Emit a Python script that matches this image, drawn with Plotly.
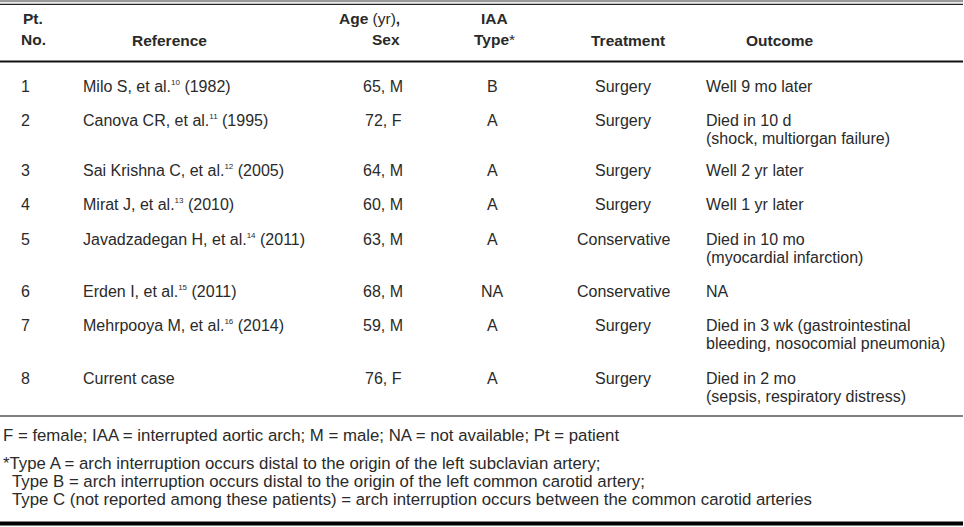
import plotly.graph_objects as go

# ---------------- data ----------------
pt_no = ["1", "2", "3", "4", "5", "6", "7", "8"]
ref_names = ["Milo S, et al.", "Canova CR, et al.", "Sai Krishna C, et al.", "Mirat J, et al.",
             "Javadzadegan H, et al.", "Erden I, et al.", "Mehrpooya M, et al.", "Current case"]
ref_cites = ["10", "11", "12", "13", "14", "15", "16", ""]
ref_years = ["(1982)", "(1995)", "(2005)", "(2010)", "(2011)", "(2011)", "(2014)", ""]
age_sex = ["65, M", "72, F", "64, M", "60, M", "63, M", "68, M", "59, M", "76, F"]
iaa_type = ["B", "A", "A", "A", "A", "NA", "A", "A"]
treatment = ["Surgery", "Surgery", "Surgery", "Surgery", "Conservative", "Conservative", "Surgery", "Surgery"]
outcome = [
    ["Well 9 mo later"],
    ["Died in 10 d", "(shock, multiorgan failure)"],
    ["Well 2 yr later"],
    ["Well 1 yr later"],
    ["Died in 10 mo", "(myocardial infarction)"],
    ["NA"],
    ["Died in 3 wk (gastrointestinal", "bleeding, nosocomial pneumonia)"],
    ["Died in 2 mo", "(sepsis, respiratory distress)"],
]
footnote_abbrev = "F = female; IAA = interrupted aortic arch; M = male; NA = not available; Pt = patient"
footnote_types = [
    "*Type A = arch interruption occurs distal to the origin of the left subclavian artery;",
    "Type B = arch interruption occurs distal to the origin of the left common carotid artery;",
    "Type C (not reported among these patients) = arch interruption occurs between the common carotid arteries",
]

# ---------------- layout constants ----------------
W, H = 964, 527
FONT = "Liberation Sans"
BODY = 16
HB = 15.5
FOOT = 16.8
TXT = "#2a2a2a"
LINE_H = 18
ROW_Y = [86, 120, 170, 204, 239, 291, 325, 378]
X_PT = 20
X_REF = 82
X_AGE = 383
X_IAA = 492
X_TRT = 623
X_OUT = 705

fig = go.Figure()
fig.update_xaxes(range=[0, W], visible=False, fixedrange=True)
fig.update_yaxes(range=[H, 0], visible=False, fixedrange=True)

ann = []


def add(x, y, text, xanchor="left", size=BODY, align="left", yanchor="middle"):
    ann.append(dict(x=x, y=y, xref="x", yref="y", text=text, showarrow=False,
                    xanchor=xanchor, yanchor=yanchor, align=align,
                    font=dict(family=FONT, size=size, color=TXT), borderpad=0))


# header
add(33, 18, "<b>Pt.</b>", xanchor="center", size=HB)
add(33, 39, "<b>No.</b>", xanchor="center", size=HB)
add(169, 40, "<b>Reference</b>", xanchor="center", size=HB)
add(401, 18, "<b>Age</b> (yr)<b>,</b>", xanchor="right", size=HB)
add(401, 39, "<b>Sex</b>", xanchor="right", size=HB)
add(494, 18, "<b>IAA</b>", xanchor="center", size=HB)
add(494, 39, "<b>Type</b>*", xanchor="center", size=HB)
add(628, 40, "<b>Treatment</b>", xanchor="center", size=HB)
add(780, 40, "<b>Outcome</b>", xanchor="center", size=HB)

# rows
for i in range(len(pt_no)):
    y = ROW_Y[i]
    add(X_PT, y, pt_no[i])
    ref = ref_names[i]
    if ref_cites[i]:
        ref += "<sup><span style='font-size:8px'>" + ref_cites[i] + "</span></sup> " + ref_years[i]
    add(X_REF, y, ref)
    add(X_AGE, y, age_sex[i], xanchor="center")
    add(X_IAA, y, iaa_type[i], xanchor="center")
    add(X_TRT, y, treatment[i], xanchor="center")
    for k, line in enumerate(outcome[i]):
        add(X_OUT, y + k * LINE_H, line)

# footnotes
add(2, 435, footnote_abbrev, size=FOOT)
for k, line in enumerate(footnote_types):
    add(2 if k == 0 else 11, 463 + k * LINE_H, line, size=FOOT)

shapes = [
    dict(type="line", x0=0, x1=963, y0=1, y1=1, line=dict(color="#9a9a9a", width=2.5)),
    dict(type="line", x0=0, x1=963, y0=4.3, y1=4.3, line=dict(color="#222222", width=1.3)),
    dict(type="line", x0=0, x1=963, y0=61.5, y1=61.5, line=dict(color="#111111", width=2)),
    dict(type="line", x0=0, x1=963, y0=416, y1=416, line=dict(color="#808080", width=2)),
    dict(type="line", x0=0, x1=963, y0=523.5, y1=523.5, line=dict(color="#000000", width=4)),
]
for s in shapes:
    s.update(xref="x", yref="y", layer="above")

fig.update_layout(width=W, height=H, margin=dict(l=0, r=0, t=0, b=0),
                  paper_bgcolor="white", plot_bgcolor="white",
                  annotations=ann, shapes=shapes, showlegend=False)
fig.write_html("out.html", config={"displayModeBar": False},
               post_script="document.body.style.margin='0';document.body.style.overflow='hidden';")
